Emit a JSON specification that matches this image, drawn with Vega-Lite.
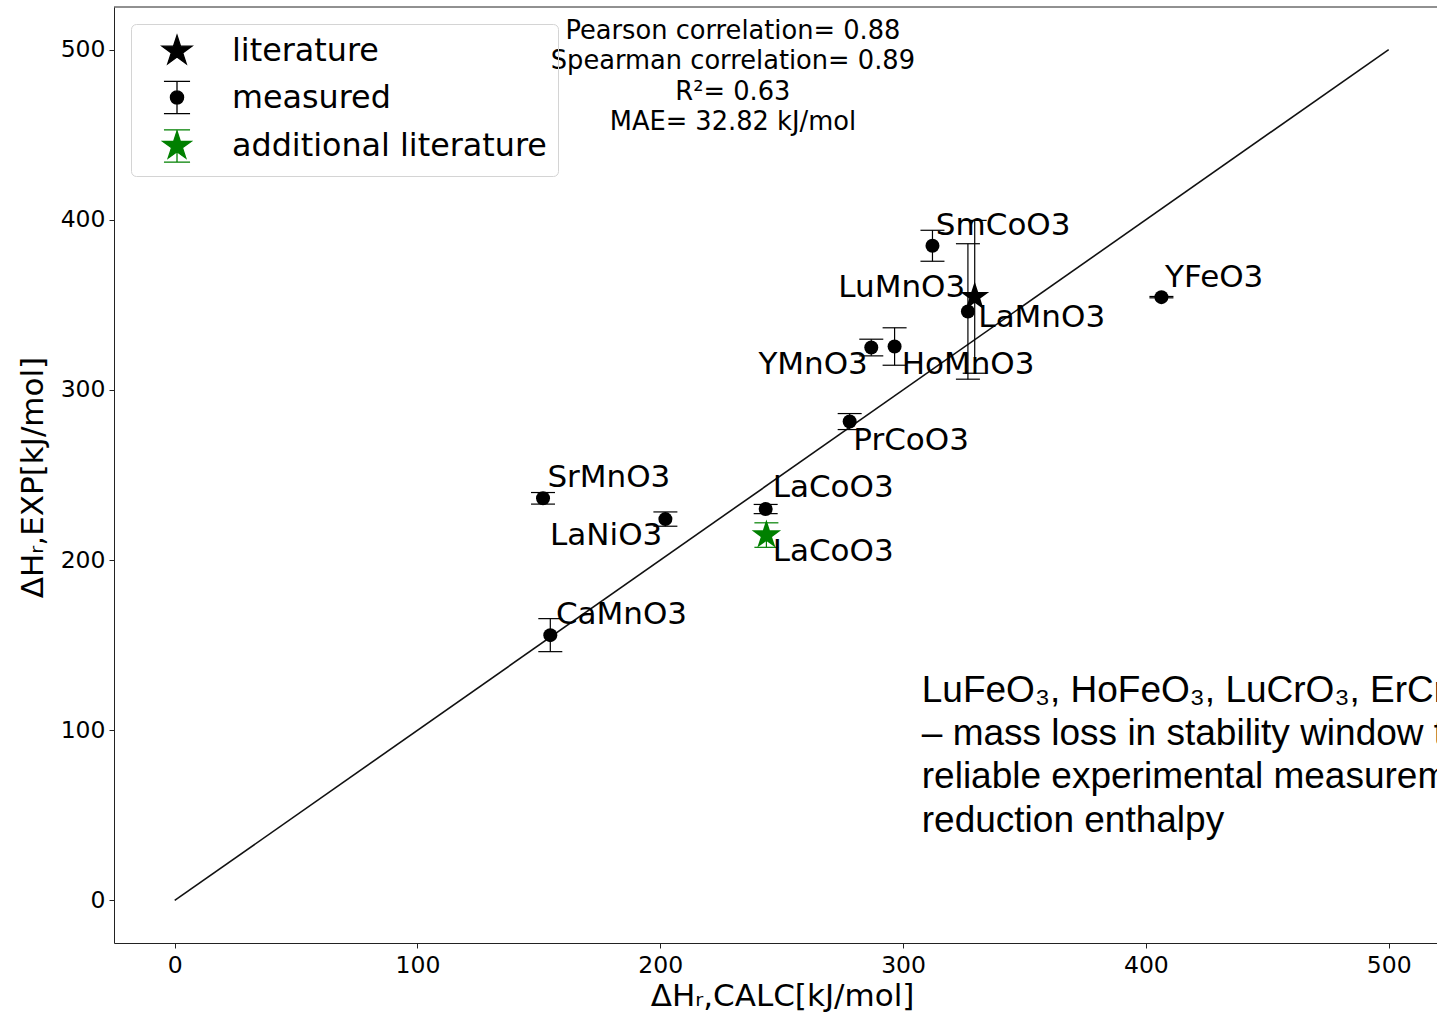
{
  "$schema": "https://vega.github.io/schema/vega-lite/v6.json",
  "width": 1323,
  "height": 936,
  "autosize": {"type": "none"},
  "padding": {"left": 114, "top": 7, "right": 0, "bottom": 71},
  "background": "white",
  "config": {
    "view": {"stroke": null},
    "font": "DejaVu Sans",
    "axis": {
      "domainColor": "#222222", "domainWidth": 1, "tickColor": "#222222", "tickWidth": 1, "tickSize": 5,
      "grid": false, "labelFont": "DejaVu Sans", "labelFontSize": 23.5, "labelColor": "black", "labelPadding": 4,
      "titleFont": "DejaVu Sans", "titleFontSize": 31, "titleFontWeight": "normal", "titleColor": "black"
    },
    "axisX": {"labelPadding": 5},
    "legend": {
      "orient": "top-left", "offset": 17, "padding": 11, "symbolOffset": 19, "symbolSize": 900,
      "labelOffset": 39, "rowPadding": 10.5, "labelFontSize": 31.8, "labelFont": "DejaVu Sans",
      "labelColor": "black", "labelLimit": 600, "strokeColor": "#d4d4d4", "cornerRadius": 5,
      "fillColor": null, "symbolStrokeWidth": 1.3
    }
  },
  "datasets": {
    "diag": [{"calc": 0, "exp": 0}, {"calc": 500, "exp": 500}],
    "pts": [
      {"name": "SrMnO3", "type": "measured", "calc": 151.7, "exp": 236.3, "err": 3.4},
      {"name": "LaNiO3", "type": "measured", "calc": 202.1, "exp": 224.1, "err": 4.2},
      {"name": "CaMnO3", "type": "measured", "calc": 154.7, "exp": 155.9, "err": 9.7},
      {"name": "LaCoO3", "type": "measured", "calc": 243.4, "exp": 230.0, "err": 2.7},
      {"name": "LaCoO3", "type": "additional literature", "calc": 243.7, "exp": 214.7, "err": 7.2},
      {"name": "PrCoO3", "type": "measured", "calc": 278.0, "exp": 281.4, "err": 4.7},
      {"name": "YMnO3", "type": "measured", "calc": 286.9, "exp": 324.9, "err": 4.9},
      {"name": "HoMnO3", "type": "measured", "calc": 296.5, "exp": 325.5, "err": 11.0},
      {"name": "SmCoO3", "type": "measured", "calc": 312.1, "exp": 384.7, "err": 9.1},
      {"name": "LuMnO3", "type": "measured", "calc": 326.7, "exp": 346.1, "err": 39.8},
      {"name": "LaMnO3", "type": "literature", "calc": 329.5, "exp": 354.7, "err": 44.9},
      {"name": "YFeO3", "type": "measured", "calc": 406.4, "exp": 354.5, "err": 0.4}
    ],
    "labels": [
      {"name": "SrMnO3", "lx": 153.5, "ly": 243.2},
      {"name": "LaNiO3", "lx": 154.6, "ly": 208.9},
      {"name": "CaMnO3", "lx": 157.0, "ly": 162.5},
      {"name": "LaCoO3", "lx": 246.3, "ly": 237.3},
      {"name": "LaCoO3", "lx": 246.3, "ly": 199.7},
      {"name": "PrCoO3", "lx": 279.5, "ly": 264.7},
      {"name": "YMnO3", "lx": 240.4, "ly": 309.4},
      {"name": "HoMnO3", "lx": 299.4, "ly": 309.4},
      {"name": "SmCoO3", "lx": 313.5, "ly": 391.1},
      {"name": "LuMnO3", "lx": 273.3, "ly": 354.8},
      {"name": "LaMnO3", "lx": 331.0, "ly": 337.2},
      {"name": "YFeO3", "lx": 407.9, "ly": 360.7}
    ],
    "stats": [
      {"sx": 229.9, "sy": 506.1, "lines": ["Pearson correlation= 0.88", "Spearman correlation= 0.89", "R²= 0.63", "MAE= 32.82 kJ/mol"]}
    ],
    "note": [
      {"nx": 307.7, "ny": 116.8, "lines": ["LuFeO₃, HoFeO₃, LuCrO₃, ErCrO₃", "– mass loss in stability window too large for", "reliable experimental measurement of", "reduction enthalpy"]}
    ],
    "legendItems": [
      {"type": "literature"},
      {"type": "measured"},
      {"type": "additional literature"}
    ],
    "frame": [{"edge": "top"}]
  },
  "layer": [
    {
      "data": {"name": "diag"},
      "mark": {"type": "line", "color": "#111111", "strokeWidth": 1.6},
      "encoding": {
        "x": {"field": "calc", "type": "quantitative", "scale": {"domain": [-25, 519.9], "nice": false, "zero": false},
              "axis": {"values": [0, 100, 200, 300, 400, 500], "title": "ΔHᵣ,CALC[kJ/mol]", "titleX": 668, "titleY": 62, "titleBaseline": "alphabetic"}},
        "y": {"field": "exp", "type": "quantitative", "scale": {"domain": [-25, 525], "nice": false, "zero": false},
              "axis": {"values": [0, 100, 200, 300, 400, 500], "title": "ΔHᵣ,EXP[kJ/mol]", "titleX": -81, "titleY": 470, "titleAngle": 270, "titleBaseline": "middle", "titleAlign": "center"}}
      }
    },
    {
      "data": {"name": "frame"},
      "mark": {"type": "rule", "color": "#222222", "strokeWidth": 1},
      "encoding": {
        "y": {"datum": 525, "type": "quantitative", "scale": {"domain": [-25, 525], "nice": false, "zero": false},
              "axis": {"values": [0, 100, 200, 300, 400, 500], "title": "ΔHᵣ,EXP[kJ/mol]", "titleX": -81, "titleY": 470, "titleAngle": 270, "titleBaseline": "middle", "titleAlign": "center"}}
      }
    },
    {
      "data": {"name": "pts"},
      "transform": [{"filter": "datum.type !== 'additional literature'"}],
      "mark": {"type": "errorbar", "ticks": {"size": 24, "thickness": 1.2, "opacity": 1}, "rule": {"strokeWidth": 1.2, "opacity": 1}},
      "encoding": {
        "x": {"field": "calc", "type": "quantitative", "scale": {"domain": [-25, 519.9], "nice": false, "zero": false},
              "axis": {"values": [0, 100, 200, 300, 400, 500], "title": "ΔHᵣ,CALC[kJ/mol]", "titleX": 668, "titleY": 62, "titleBaseline": "alphabetic"}},
        "y": {"field": "exp", "type": "quantitative", "scale": {"domain": [-25, 525], "nice": false, "zero": false},
              "axis": {"values": [0, 100, 200, 300, 400, 500], "title": "ΔHᵣ,EXP[kJ/mol]", "titleX": -81, "titleY": 470, "titleAngle": 270, "titleBaseline": "middle", "titleAlign": "center"}},
        "yError": {"field": "err"},
        "color": {"value": "black"}
      }
    },
    {
      "data": {"name": "pts"},
      "transform": [{"filter": "datum.type === 'additional literature'"}],
      "mark": {"type": "errorbar", "ticks": {"size": 24, "thickness": 1.2, "opacity": 1}, "rule": {"strokeWidth": 1.2, "opacity": 1}},
      "encoding": {
        "x": {"field": "calc", "type": "quantitative", "scale": {"domain": [-25, 519.9], "nice": false, "zero": false},
              "axis": {"values": [0, 100, 200, 300, 400, 500], "title": "ΔHᵣ,CALC[kJ/mol]", "titleX": 668, "titleY": 62, "titleBaseline": "alphabetic"}},
        "y": {"field": "exp", "type": "quantitative", "scale": {"domain": [-25, 525], "nice": false, "zero": false},
              "axis": {"values": [0, 100, 200, 300, 400, 500], "title": "ΔHᵣ,EXP[kJ/mol]", "titleX": -81, "titleY": 470, "titleAngle": 270, "titleBaseline": "middle", "titleAlign": "center"}},
        "yError": {"field": "err"},
        "color": {"value": "green"}
      }
    },
    {
      "data": {"name": "pts"},
      "transform": [{"filter": "datum.type === 'measured'"}],
      "mark": {"type": "point", "shape": "circle", "filled": true, "size": 196, "opacity": 1, "color": "black"},
      "encoding": {
        "x": {"field": "calc", "type": "quantitative", "scale": {"domain": [-25, 519.9], "nice": false, "zero": false},
              "axis": {"values": [0, 100, 200, 300, 400, 500], "title": "ΔHᵣ,CALC[kJ/mol]", "titleX": 668, "titleY": 62, "titleBaseline": "alphabetic"}},
        "y": {"field": "exp", "type": "quantitative", "scale": {"domain": [-25, 525], "nice": false, "zero": false},
              "axis": {"values": [0, 100, 200, 300, 400, 500], "title": "ΔHᵣ,EXP[kJ/mol]", "titleX": -81, "titleY": 470, "titleAngle": 270, "titleBaseline": "middle", "titleAlign": "center"}}
      }
    },
    {
      "data": {"name": "pts"},
      "transform": [{"filter": "datum.type === 'literature'"}],
      "mark": {"type": "point", "shape": "M0,-1L0.2245,-0.309L0.951,-0.309L0.363,0.118L0.588,0.809L0,0.382L-0.588,0.809L-0.363,0.118L-0.951,-0.309L-0.2245,-0.309Z", "filled": true, "size": 930, "opacity": 1, "color": "black"},
      "encoding": {
        "x": {"field": "calc", "type": "quantitative", "scale": {"domain": [-25, 519.9], "nice": false, "zero": false},
              "axis": {"values": [0, 100, 200, 300, 400, 500], "title": "ΔHᵣ,CALC[kJ/mol]", "titleX": 668, "titleY": 62, "titleBaseline": "alphabetic"}},
        "y": {"field": "exp", "type": "quantitative", "scale": {"domain": [-25, 525], "nice": false, "zero": false},
              "axis": {"values": [0, 100, 200, 300, 400, 500], "title": "ΔHᵣ,EXP[kJ/mol]", "titleX": -81, "titleY": 470, "titleAngle": 270, "titleBaseline": "middle", "titleAlign": "center"}}
      }
    },
    {
      "data": {"name": "pts"},
      "transform": [{"filter": "datum.type === 'additional literature'"}],
      "mark": {"type": "point", "shape": "M0,-1L0.2245,-0.309L0.951,-0.309L0.363,0.118L0.588,0.809L0,0.382L-0.588,0.809L-0.363,0.118L-0.951,-0.309L-0.2245,-0.309Z", "filled": true, "size": 960, "opacity": 1, "color": "green"},
      "encoding": {
        "x": {"field": "calc", "type": "quantitative", "scale": {"domain": [-25, 519.9], "nice": false, "zero": false},
              "axis": {"values": [0, 100, 200, 300, 400, 500], "title": "ΔHᵣ,CALC[kJ/mol]", "titleX": 668, "titleY": 62, "titleBaseline": "alphabetic"}},
        "y": {"field": "exp", "type": "quantitative", "scale": {"domain": [-25, 525], "nice": false, "zero": false},
              "axis": {"values": [0, 100, 200, 300, 400, 500], "title": "ΔHᵣ,EXP[kJ/mol]", "titleX": -81, "titleY": 470, "titleAngle": 270, "titleBaseline": "middle", "titleAlign": "center"}}
      }
    },
    {
      "data": {"name": "labels"},
      "mark": {"type": "text", "align": "left", "baseline": "alphabetic", "fontSize": 31, "font": "DejaVu Sans", "color": "black"},
      "encoding": {
        "x": {"field": "lx", "type": "quantitative", "scale": {"domain": [-25, 519.9], "nice": false, "zero": false},
              "axis": {"values": [0, 100, 200, 300, 400, 500], "title": "ΔHᵣ,CALC[kJ/mol]", "titleX": 668, "titleY": 62, "titleBaseline": "alphabetic"}},
        "y": {"field": "ly", "type": "quantitative", "scale": {"domain": [-25, 525], "nice": false, "zero": false},
              "axis": {"values": [0, 100, 200, 300, 400, 500], "title": "ΔHᵣ,EXP[kJ/mol]", "titleX": -81, "titleY": 470, "titleAngle": 270, "titleBaseline": "middle", "titleAlign": "center"}},
        "text": {"field": "name"}
      }
    },
    {
      "data": {"name": "stats"},
      "mark": {"type": "text", "align": "center", "baseline": "alphabetic", "fontSize": 25.7, "font": "DejaVu Sans", "color": "black", "lineHeight": 30.2},
      "encoding": {
        "x": {"field": "sx", "type": "quantitative", "scale": {"domain": [-25, 519.9], "nice": false, "zero": false},
              "axis": {"values": [0, 100, 200, 300, 400, 500], "title": "ΔHᵣ,CALC[kJ/mol]", "titleX": 668, "titleY": 62, "titleBaseline": "alphabetic"}},
        "y": {"field": "sy", "type": "quantitative", "scale": {"domain": [-25, 525], "nice": false, "zero": false},
              "axis": {"values": [0, 100, 200, 300, 400, 500], "title": "ΔHᵣ,EXP[kJ/mol]", "titleX": -81, "titleY": 470, "titleAngle": 270, "titleBaseline": "middle", "titleAlign": "center"}},
        "text": {"field": "lines"}
      }
    },
    {
      "data": {"name": "note"},
      "mark": {"type": "text", "align": "left", "baseline": "alphabetic", "fontSize": 37, "font": "Liberation Sans", "color": "black", "lineHeight": 43.3},
      "encoding": {
        "x": {"field": "nx", "type": "quantitative", "scale": {"domain": [-25, 519.9], "nice": false, "zero": false},
              "axis": {"values": [0, 100, 200, 300, 400, 500], "title": "ΔHᵣ,CALC[kJ/mol]", "titleX": 668, "titleY": 62, "titleBaseline": "alphabetic"}},
        "y": {"field": "ny", "type": "quantitative", "scale": {"domain": [-25, 525], "nice": false, "zero": false},
              "axis": {"values": [0, 100, 200, 300, 400, 500], "title": "ΔHᵣ,EXP[kJ/mol]", "titleX": -81, "titleY": 470, "titleAngle": 270, "titleBaseline": "middle", "titleAlign": "center"}},
        "text": {"field": "lines"}
      }
    },
    {
      "data": {"name": "legendItems"},
      "mark": {"type": "point", "filled": true, "opacity": 1, "clip": true},
      "encoding": {
        "x": {"datum": -200, "type": "quantitative", "scale": {"domain": [-25, 519.9], "nice": false, "zero": false},
              "axis": {"values": [0, 100, 200, 300, 400, 500], "title": "ΔHᵣ,CALC[kJ/mol]", "titleX": 668, "titleY": 62, "titleBaseline": "alphabetic"}},
        "y": {"datum": -200, "type": "quantitative", "scale": {"domain": [-25, 525], "nice": false, "zero": false},
              "axis": {"values": [0, 100, 200, 300, 400, 500], "title": "ΔHᵣ,EXP[kJ/mol]", "titleX": -81, "titleY": 470, "titleAngle": 270, "titleBaseline": "middle", "titleAlign": "center"}},
        "shape": {"field": "type", "type": "nominal",
          "scale": {"domain": ["literature", "measured", "additional literature"],
                    "range": ["M0,-1.05L0.236,-0.324L0.999,-0.324L0.381,0.124L0.617,0.849L0,0.401L-0.617,0.849L-0.381,0.124L-0.999,-0.324L-0.236,-0.324Z",
                              "M0,-1.07L0,1.07M-0.87,-1.07L0.87,-1.07M-0.87,1.07L0.87,1.07M-0.44,0A0.44,0.44,0,1,0,0.44,0A0.44,0.44,0,1,0,-0.44,0Z",
                              "M0,-1.07L0,1.07M-0.87,-1.07L0.87,-1.07M-0.87,1.07L0.87,1.07M0,-1.0L0.2245,-0.309L0.951,-0.309L0.363,0.118L0.588,0.809L0,0.382L-0.588,0.809L-0.363,0.118L-0.951,-0.309L-0.2245,-0.309Z"]},
          "legend": {"title": null}},
        "fill": {"field": "type", "type": "nominal",
          "scale": {"domain": ["literature", "measured", "additional literature"], "range": ["black", "black", "green"]},
          "legend": {"title": null}},
        "stroke": {"field": "type", "type": "nominal",
          "scale": {"domain": ["literature", "measured", "additional literature"], "range": ["black", "black", "green"]},
          "legend": {"title": null}}
      }
    }
  ]
}
